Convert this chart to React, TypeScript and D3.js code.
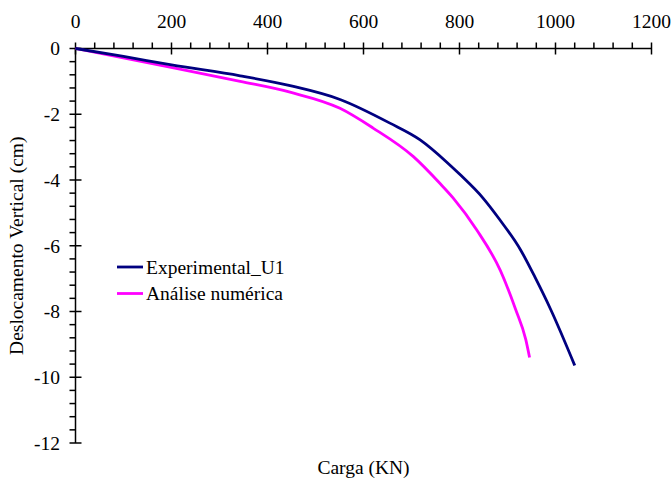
import React from "react";
import * as d3 from "d3";

const expLoad = [0, 100, 200, 343, 447, 551, 655, 718, 773, 800, 849, 884, 927, 957, 990, 1040];
const expDisp = [0, -0.24, -0.5, -0.83, -1.13, -1.55, -2.27, -2.78, -3.45, -3.82, -4.55, -5.21, -6.12, -6.95, -7.94, -9.64];
const numLoad = [0, 207, 343, 447, 551, 620, 704, 759, 787, 836, 885, 917, 938, 946];
const numDisp = [0, -0.6, -1.0, -1.33, -1.82, -2.42, -3.29, -4.1, -4.55, -5.52, -6.75, -7.94, -8.85, -9.4];
const xTicks = [0, 200, 400, 600, 800, 1000, 1200];
const yTicks = [0, -2, -4, -6, -8, -10, -12];
const seriesNames = ["Experimental_U1", "Análise numérica"];
const seriesColors = ["#000080", "#FF00FF"];
const xTitle = "Carga (KN)";
const yTitle = "Deslocamento Vertical (cm)";

export default function App() {
  const W = 671, H = 480;
  const x = d3.scaleLinear().domain([0, 1200]).range([75.5, 651.5]);
  const y = d3.scaleLinear().domain([0, -12]).range([48.5, 443]);
  const line = d3.line<[number, number]>().x(d => x(d[0])).y(d => y(d[1])).curve(d3.curveMonotoneX);
  const exp: [number, number][] = expLoad.map((v, i) => [v, expDisp[i]]);
  const num: [number, number][] = numLoad.map((v, i) => [v, numDisp[i]]);
  const xMinor = d3.range(0, 1200.1, 40).filter(v => v % 200 !== 0);
  const yMinor = d3.range(0, 12.01, 0.4).map(v => -v).filter(v => Math.abs(Math.round(v / 2) * 2 - v) > 0.01);
  const F = "Liberation Serif";
  const FS = 19.5;
  const x0 = x(0), y0 = y(0);
  return (
    <svg width={W} height={H} style={{ position: "absolute", left: 0, top: 0 }}>
      <line x1={x0} x2={x(1200)} y1={y0} y2={y0} stroke="#000" strokeWidth={1.5} />
      {xTicks.map(t => (
        <g key={"xt" + t}>
          <line x1={x(t)} x2={x(t)} y1={y0 - 6} y2={y0 + 6} stroke="#000" strokeWidth={1.5} />
          <text x={x(t)} y={28} textAnchor="middle" fontFamily={F} fontSize={FS}>{t}</text>
        </g>
      ))}
      {xMinor.map(t => (
        <line key={"xm" + t} x1={x(t)} x2={x(t)} y1={y0 - 6} y2={y0} stroke="#000" strokeWidth={1.5} />
      ))}
      <line x1={x0} x2={x0} y1={y0} y2={y(-12)} stroke="#000" strokeWidth={1.5} />
      {yTicks.map(t => (
        <g key={"yt" + t}>
          <line x1={x0 - 6} x2={x0 + 6} y1={y(t)} y2={y(t)} stroke="#000" strokeWidth={1.5} />
          <text x={60} y={y(t)} dy="0.35em" textAnchor="end" fontFamily={F} fontSize={FS}>{t}</text>
        </g>
      ))}
      {yMinor.map(t => (
        <line key={"ym" + t} x1={x0 - 6} x2={x0} y1={y(t)} y2={y(t)} stroke="#000" strokeWidth={1.5} />
      ))}
      <path d={line(num) || ""} fill="none" stroke={seriesColors[1]} strokeWidth={2.8} />
      <path d={line(exp) || ""} fill="none" stroke={seriesColors[0]} strokeWidth={2.8} />
      {seriesNames.map((n, i) => (
        <g key={n}>
          <line x1={117} x2={143} y1={267 + i * 26.5} y2={267 + i * 26.5} stroke={seriesColors[i]} strokeWidth={2.8} />
          <text x={146} y={267 + i * 26.5} dy="0.35em" fontFamily={F} fontSize={FS}>{n}</text>
        </g>
      ))}
      <text x={(x0 + x(1200)) / 2} y={474} textAnchor="middle" fontFamily={F} fontSize={FS}>{xTitle}</text>
      <text transform={`translate(23, ${(y0 + y(-12)) / 2}) rotate(-90)`} textAnchor="middle" fontFamily={F} fontSize={FS}>{yTitle}</text>
    </svg>
  );
}
